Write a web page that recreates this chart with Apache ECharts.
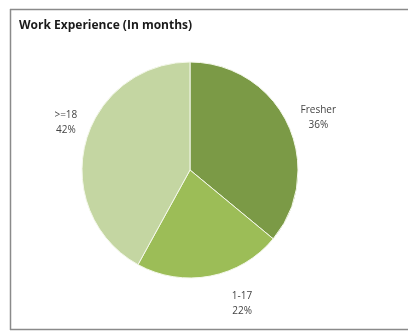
<!DOCTYPE html>
<html>
<head>
<meta charset="utf-8">
<style>
  html, body { margin: 0; padding: 0; background: #fff; overflow: hidden; }
  #chart { width: 408px; height: 331px; }
</style>
<script src="https://cdn.jsdelivr.net/npm/echarts@6/dist/echarts.min.js"></script>
</head>
<body>
<div id="chart"></div>
<script>
// Work experience breakdown (share of respondents, %)
const categories = ['Fresher', '1-17', '>=18'];
const shares = [36, 22, 42];
const sliceColors = ['#7b9a46', '#9cbd57', '#c4d6a2'];

// nudges for the outside labels so each sits centred beside its slice
const labelNudge = [[2, 0], [14, 13], [10, -17]];

const chart = echarts.init(document.getElementById('chart'), null, { renderer: 'canvas' });

const frameStyle = { stroke: '#8a8a8a', lineWidth: 1.5 };

chart.setOption({
  animation: false,
  backgroundColor: '#ffffff',
  title: {
    text: 'Work Experience (In months)',
    left: 14,
    top: 15,
    textStyle: {
      fontFamily: 'Open Sans',
      fontWeight: 'bold',
      fontSize: 12,
      color: '#1a1a1a'
    }
  },
  graphic: [
    { type: 'line', shape: { x1: 10, y1: 9.5, x2: 420, y2: 9.5 }, style: frameStyle, silent: true },
    { type: 'line', shape: { x1: 10.5, y1: 9, x2: 10.5, y2: 330 }, style: frameStyle, silent: true },
    { type: 'line', shape: { x1: 10, y1: 329.5, x2: 420, y2: 329.5 }, style: frameStyle, silent: true }
  ],
  series: [
    {
      type: 'pie',
      center: [190, 170],
      radius: 108,
      startAngle: 90,
      clockwise: true,
      data: categories.map((name, i) => ({
        name,
        value: shares[i],
        itemStyle: { color: sliceColors[i] }
      })),
      itemStyle: { borderColor: '#f4f8ea', borderWidth: 1 },
      label: {
        show: true,
        position: 'outside',
        formatter: p => p.name + '\n' + p.value + '%',
        fontFamily: 'Open Sans',
        fontSize: 10,
        lineHeight: 15,
        color: '#444'
      },
      labelLine: { show: false, length: 15, length2: 10 },
      labelLayout: p => ({
        align: 'center',
        dx: labelNudge[p.dataIndex][0],
        dy: labelNudge[p.dataIndex][1]
      }),
      emphasis: { disabled: true }
    }
  ]
});
</script>
</body>
</html>
